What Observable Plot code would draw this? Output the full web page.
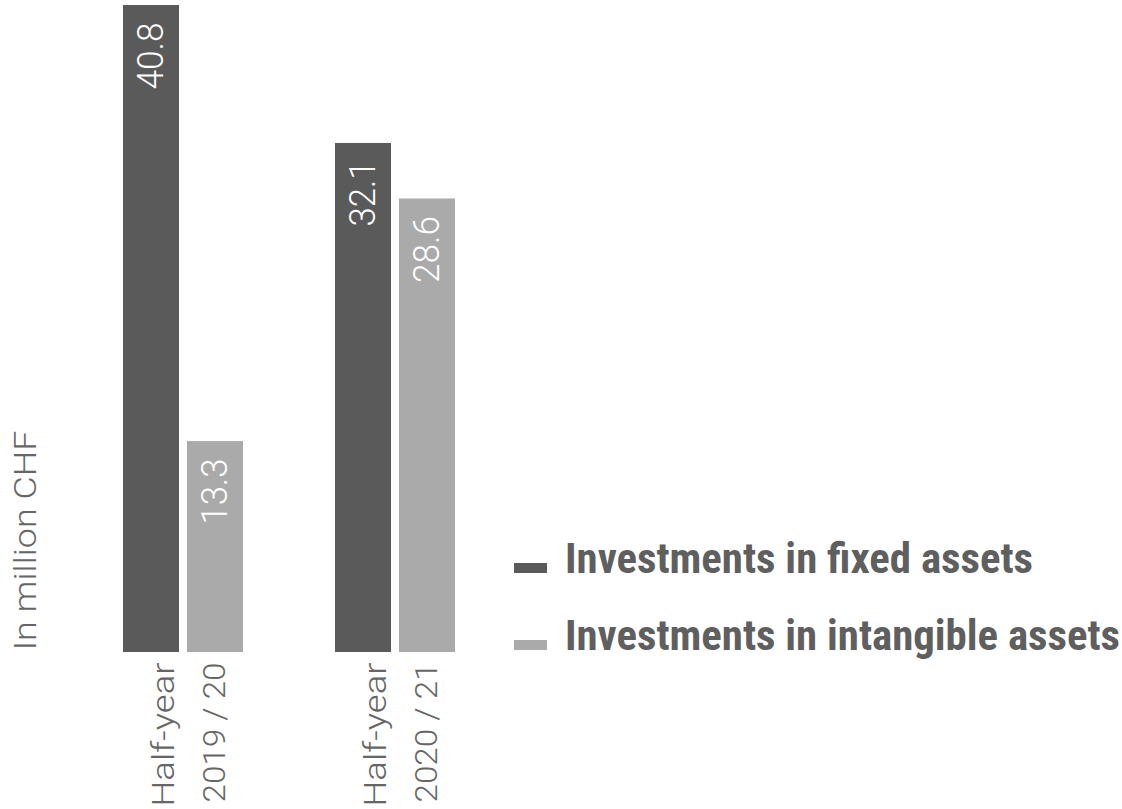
<!DOCTYPE html>
<html><head><meta charset="utf-8">
<script src="https://cdn.jsdelivr.net/npm/d3@7"></script>
<script src="https://cdn.jsdelivr.net/npm/@observablehq/plot@0.6"></script>
<style>
html,body{margin:0;padding:0;background:#fff;}
#chart svg{display:block;}
</style></head><body><div id="chart"></div>
<script>
const periods = ["2019/20", "2020/21"];
const periodLabels = ["Half-year\n2019 / 20", "Half-year\n2020 / 21"];
const series = ["Investments in fixed assets", "Investments in intangible assets"];
const fixedAssets = [40.8, 32.1];
const intangibleAssets = [13.3, 28.6];
const yLabel = "In million CHF";
const colors = ["#5a5a5a", "#aaaaaa"];

const data = periods.flatMap((p, i) => [
  {period: p, series: series[0], value: fixedAssets[i]},
  {period: p, series: series[1], value: intangibleAssets[i]}
]);
const fixed = data.filter(d => d.series === series[0]);
const intang = data.filter(d => d.series === series[1]);

const lightFont = "Roboto, 'Liberation Sans', sans-serif";
const valueOpts = {x: "period", y: "value", text: d => d.value.toFixed(1), rotate: -90,
  textAnchor: "end", lineAnchor: "middle", dy: 17, fill: "white", fontSize: 37, fontWeight: 300};

const plot = Plot.plot({
  width: 1122, height: 809,
  marginLeft: 123, marginRight: 666, marginTop: 5, marginBottom: 157,
  x: {domain: periods, paddingInner: 0.432, paddingOuter: 0, axis: null},
  y: {domain: [0, 40.8], axis: null},
  color: {domain: series, range: colors},
  style: {background: "#fff", fontFamily: lightFont, overflow: "visible"},
  marks: [
    Plot.barY(fixed, {x: "period", y: "value", fill: "series", insetRight: 64}),
    Plot.barY(intang, {x: "period", y: "value", fill: "series", insetLeft: 64}),
    Plot.text(fixed, {...valueOpts, dx: -32}),
    Plot.text(intang, {...valueOpts, dx: 32}),
    Plot.text(periods, {x: d => d, y: () => 0, text: (d, i) => periodLabels[i], rotate: -90,
      textAnchor: "end", lineAnchor: "middle", lineHeight: 1.65, dy: 10,
      fontSize: 31, fontWeight: 300, fill: "#666"}),
    Plot.text([yLabel], {frameAnchor: "bottom-left", text: d => d, rotate: -90,
      textAnchor: "start", lineAnchor: "middle", dx: -97, dy: -2,
      fontSize: 31, fontWeight: 300, fill: "#666"})
  ]
});

const svg = d3.select(plot);

// legend, colors from the plot's color scale
const color = plot.scale("color");
const legend = svg.append("g").attr("class", "legend");
const baselines = [573, 650];
const targetLen = [468, 555];
series.forEach((s, i) => {
  legend.append("rect")
    .attr("x", 514).attr("y", baselines[i] - 10)
    .attr("width", 33).attr("height", 10)
    .attr("fill", color.apply(s));
  legend.append("text")
    .attr("x", 565).attr("y", baselines[i])
    .attr("text-anchor", "start")
    .attr("fill", "#5f5f5f")
    .attr("data-target", targetLen[i])
    .style("font-family", "'Liberation Sans Narrow', 'Arial Narrow', 'Roboto Condensed', 'Liberation Sans', sans-serif")
    .style("font-weight", "bold")
    .style("font-size", "42px")
    .text(s);
});
document.getElementById("chart").appendChild(plot);

function fitLength(node, target) {
  const len = node.getComputedTextLength();
  if (Math.abs(len - target) > 3) {
    node.setAttribute("textLength", target);
    node.setAttribute("lengthAdjust", "spacingAndGlyphs");
  }
}
legend.selectAll("text").each(function() { fitLength(this, +this.getAttribute("data-target")); });
// fit the light labels to the proportions of the original's typeface
const lightTargets = {"Half-year": 144, "2019 / 20": 140, "2020 / 21": 140, "In million CHF": 220,
  "40.8": 67, "13.3": 66, "32.1": 66, "28.6": 67};
svg.selectAll("text, tspan").each(function() {
  if (this.closest(".legend")) return;
  if (this.tagName === "text" && this.querySelector("tspan")) return;
  const t = lightTargets[this.textContent];
  if (t) fitLength(this, t);
});
</script>
</body></html>
